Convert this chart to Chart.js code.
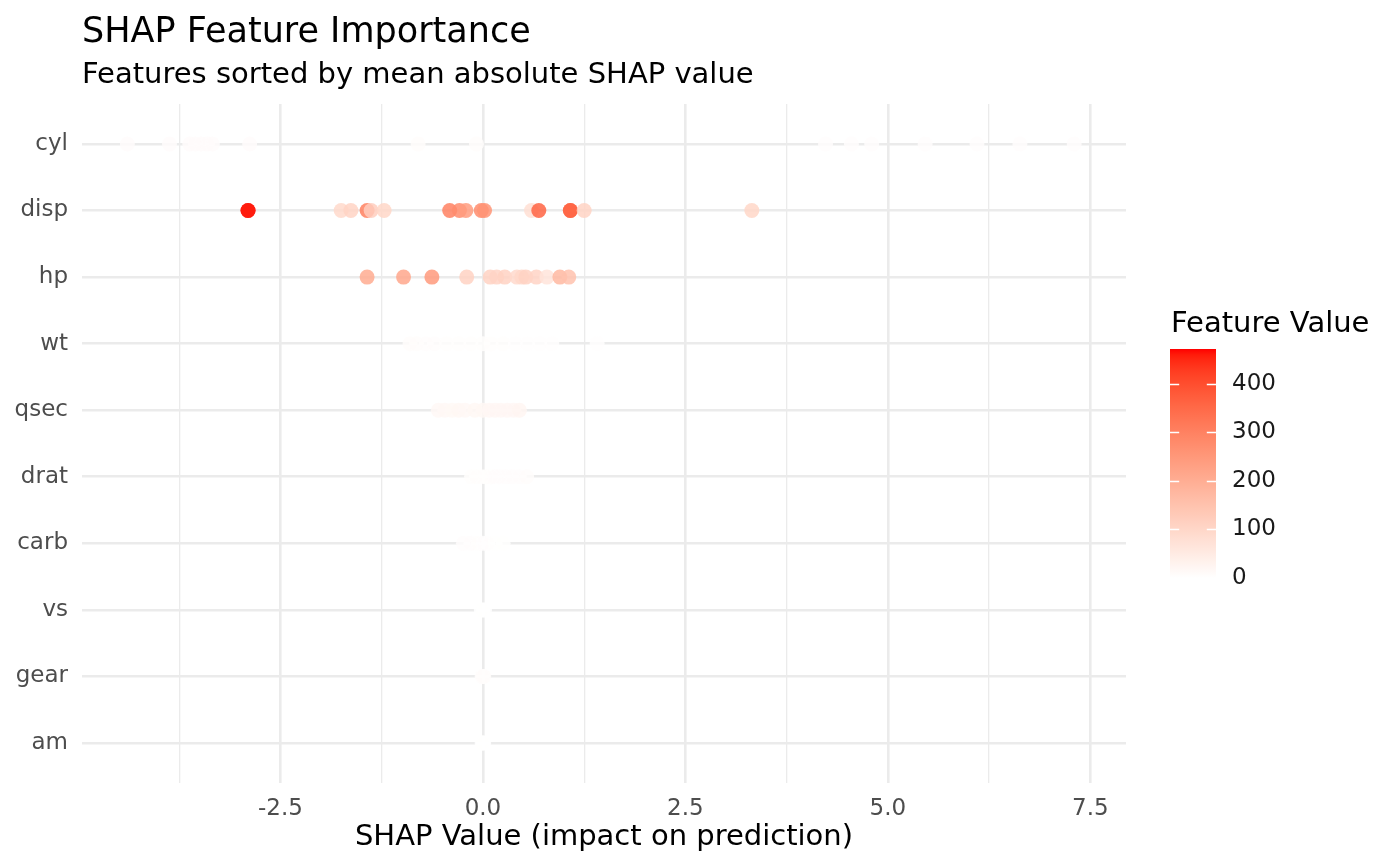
<!DOCTYPE html>
<html>
<head>
<meta charset="utf-8">
<script src="https://cdn.jsdelivr.net/npm/chart.js@4.4.1/dist/chart.umd.min.js"></script>
<style>
  html, body { margin: 0; padding: 0; background: #ffffff; }
  #wrap { width: 1400px; height: 866px; position: relative; }
</style>
</head>
<body>
<div id="wrap"><canvas id="c" width="1400" height="866"></canvas></div>
<script>
// ---------------- DATA ----------------
const features = ['cyl', 'disp', 'hp', 'wt', 'qsec', 'drat', 'carb', 'vs', 'gear', 'am'];

const cylShap = [-4.39, -3.87, -3.62, -3.55, -3.48, -3.40, -3.34, -2.88, -0.80, -0.08, 4.23, 4.55, 4.80, 5.46, 6.10, 6.63, 7.30];
const cylVal  = [8, 8, 8, 8, 8, 8, 8, 8, 6, 6, 4, 4, 4, 4, 4, 4, 4];

const dispShap = [-2.90, -2.90, -1.75, -1.63, -1.43, -1.38, -1.22, -0.41, -0.29, -0.21, -0.02, 0.02, 0.60, 0.69, 1.08, 1.08, 1.25, 3.32];
const dispVal  = [472, 460, 95, 108, 304, 120, 100, 301, 276, 240, 276, 258, 80, 360, 350, 360, 108, 100];

const hpShap = [-1.43, -0.98, -0.63, -0.20, 0.09, 0.17, 0.27, 0.42, 0.48, 0.53, 0.66, 0.79, 0.95, 1.06];
const hpVal  = [205, 215, 245, 110, 110, 105, 110, 93, 97, 110, 105, 66, 175, 150];

const wtShap = [-0.90, -0.82, -0.70, -0.60, -0.45, -0.30, -0.15, 0.00, 0.10, 0.25, 0.40, 0.55, 0.70, 0.85, 1.41];
const wtVal  = [5.4, 5.3, 4.1, 3.8, 3.6, 3.5, 3.4, 3.2, 3.2, 2.9, 2.6, 2.3, 2.2, 1.9, 1.6];

const qsecShap = [-0.55, -0.47, -0.38, -0.30, -0.22, -0.10, 0.00, 0.08, 0.15, 0.22, 0.30, 0.38, 0.45];
const qsecVal  = [16.5, 17.0, 15.8, 17.4, 17.0, 18.0, 18.3, 18.6, 19.4, 19.9, 20.0, 20.2, 22.9];

const dratShap = [-0.14, -0.08, -0.02, 0.04, 0.10, 0.15, 0.20, 0.28, 0.36, 0.45, 0.54];
const dratVal  = [3.1, 3.0, 3.1, 3.2, 3.7, 3.9, 3.9, 4.1, 4.2, 4.2, 4.9];

const carbShap = [-0.24, -0.15, -0.06, 0.00, 0.06, 0.15, 0.25];
const carbVal  = [4, 4, 3, 2, 2, 1, 1];

const vsShap = [-0.02, 0.00, 0.02];
const vsVal  = [0, 1, 0];

const gearShap = [-0.01, 0.00, 0.01];
const gearVal  = [3, 4, 5];

const amShap = [-0.01, 0.00, 0.01];
const amVal  = [0, 1, 0];

const xMajorTicks = [-2.5, 0, 2.5, 5, 7.5];
const xMinorTicks = [-3.75, -1.25, 1.25, 3.75, 6.25];
const legendTicks = [0, 100, 200, 300, 400];

const shapSeries = [cylShap, dispShap, hpShap, wtShap, qsecShap, dratShap, carbShap, vsShap, gearShap, amShap];
const valueSeries = [cylVal, dispVal, hpVal, wtVal, qsecVal, dratVal, carbVal, vsVal, gearVal, amVal];

// ---------------- COLOUR SCALE (Lab interpolation white -> red) ----------------
function toLin(c) { c /= 255; return c <= 0.04045 ? c / 12.92 : Math.pow((c + 0.055) / 1.055, 2.4); }
function fromLin(c) { const v = c <= 0.0031308 ? 12.92 * c : 1.055 * Math.pow(c, 1 / 2.4) - 0.055; return Math.max(0, Math.min(255, Math.round(v * 255))); }
const Xn = 0.95047, Yn = 1.0, Zn = 1.08883;
function fLab(t) { return t > 0.008856 ? Math.cbrt(t) : 7.787 * t + 16 / 116; }
function fInv(t) { const t3 = t * t * t; return t3 > 0.008856 ? t3 : (t - 16 / 116) / 7.787; }
function rgbToLab(r, g, b) {
  const R = toLin(r), G = toLin(g), B = toLin(b);
  const X = 0.4124564 * R + 0.3575761 * G + 0.1804375 * B;
  const Y = 0.2126729 * R + 0.7151522 * G + 0.0721750 * B;
  const Z = 0.0193339 * R + 0.1191920 * G + 0.9503041 * B;
  const fx = fLab(X / Xn), fy = fLab(Y / Yn), fz = fLab(Z / Zn);
  return [116 * fy - 16, 500 * (fx - fy), 200 * (fy - fz)];
}
function labToRgb(L, a, b) {
  const fy = (L + 16) / 116, fx = fy + a / 500, fz = fy - b / 200;
  const X = Xn * fInv(fx), Y = Yn * fInv(fy), Z = Zn * fInv(fz);
  const R = 3.2404542 * X - 1.5371385 * Y - 0.4985314 * Z;
  const G = -0.9692660 * X + 1.8760108 * Y + 0.0415560 * Z;
  const B = 0.0556434 * X - 0.2040259 * Y + 1.0572252 * Z;
  return [fromLin(R), fromLin(G), fromLin(B)];
}
const labLow = rgbToLab(255, 255, 255);
const labHigh = rgbToLab(255, 0, 0);
const allVals = valueSeries.flat();
const colorMin = Math.min(...allVals);
const colorMax = Math.max(...allVals);
function colorFor(v, alpha) {
  const t = Math.max(0, Math.min(1, (v - colorMin) / (colorMax - colorMin)));
  const L = labLow[0] + (labHigh[0] - labLow[0]) * t;
  const A = labLow[1] + (labHigh[1] - labLow[1]) * t;
  const B = labLow[2] + (labHigh[2] - labLow[2]) * t;
  const [r, g, b] = labToRgb(L, A, B);
  return alpha === undefined ? `rgb(${r},${g},${b})` : `rgba(${r},${g},${b},${alpha})`;
}

// ---------------- DATASETS ----------------
const POINT_ALPHA = 0.85;
const datasets = features.map((f, i) => ({
  label: f,
  data: shapSeries[i].map(s => ({ x: s, y: i })),
  backgroundColor: valueSeries[i].map(v => colorFor(v, POINT_ALPHA)),
  borderWidth: 0,
  pointRadius: 7.5,
  pointHoverRadius: 7.5
}));

const FONT = "'DejaVu Sans', 'Liberation Sans', sans-serif";
Chart.defaults.font.family = FONT;

// ---------------- PLUGINS: titles + colourbar legend ----------------
const decorPlugin = {
  id: 'decor',
  afterDraw(chart) {
    const ctx = chart.ctx;
    const ca = chart.chartArea;
    ctx.save();
    ctx.fillStyle = '#000000';
    ctx.textAlign = 'left';
    ctx.textBaseline = 'alphabetic';
    ctx.font = `35px ${FONT}`;
    ctx.fillText('SHAP Feature Importance', ca.left, 42);
    ctx.font = `29px ${FONT}`;
    ctx.fillText('Features sorted by mean absolute SHAP value', ca.left, 83);

    // colourbar
    const barX = 1170, barW = 46, barTop = 349, barBot = 578;
    const grad = ctx.createLinearGradient(0, barBot, 0, barTop);
    const N = 40;
    for (let k = 0; k <= N; k++) {
      const v = colorMin + (colorMax - colorMin) * k / N;
      grad.addColorStop(k / N, colorFor(v));
    }
    ctx.fillStyle = grad;
    ctx.fillRect(barX, barTop, barW, barBot - barTop);

    const yOf = v => barBot - (v - colorMin) / (colorMax - colorMin) * (barBot - barTop);
    ctx.strokeStyle = '#ffffff';
    ctx.lineWidth = 1.5;
    const tickLen = barW / 5;
    legendTicks.forEach(v => {
      if (v <= colorMin || v >= colorMax) return;
      const y = Math.round(yOf(v)) + 0.5;
      ctx.beginPath();
      ctx.moveTo(barX, y); ctx.lineTo(barX + tickLen, y);
      ctx.moveTo(barX + barW - tickLen, y); ctx.lineTo(barX + barW, y);
      ctx.stroke();
    });

    ctx.fillStyle = '#000000';
    ctx.font = `29px ${FONT}`;
    ctx.textBaseline = 'alphabetic';
    ctx.fillText('Feature Value', 1171, 332);

    ctx.font = `23px ${FONT}`;
    ctx.textBaseline = 'middle';
    ctx.fillStyle = '#1a1a1a';
    legendTicks.forEach(v => {
      ctx.fillText(String(v), 1232, yOf(v));
    });
    ctx.restore();
  }
};

// ---------------- CHART ----------------
const allXTicks = xMinorTicks.concat(xMajorTicks).sort((a, b) => a - b);

new Chart(document.getElementById('c'), {
  type: 'scatter',
  data: { datasets },
  plugins: [decorPlugin],
  options: {
    responsive: false,
    animation: false,
    events: [],
    layout: { padding: { top: 104, right: 274, bottom: 0, left: 0 } },
    plugins: {
      legend: { display: false },
      tooltip: { enabled: false },
      title: { display: false }
    },
    scales: {
      x: {
        type: 'linear',
        min: -4.95,
        max: 7.94,
        afterBuildTicks(scale) { scale.ticks = allXTicks.map(v => ({ value: v })); },
        afterFit(scale) { scale.height = 83; },
        border: { display: false },
        grid: {
          color: '#ebebeb',
          drawTicks: false,
          lineWidth: ctx => (ctx.tick && xMajorTicks.includes(ctx.tick.value)) ? 2.6 : 1.3
        },
        ticks: {
          autoSkip: false,
          maxRotation: 0,
          padding: 12,
          color: '#4d4d4d',
          font: { size: 23 },
          callback: v => xMajorTicks.includes(v) ? v.toFixed(1) : ''
        },
        title: {
          display: true,
          text: 'SHAP Value (impact on prediction)',
          color: '#000000',
          font: { size: 29 },
          padding: { top: 0, bottom: 11 }
        }
      },
      y: {
        type: 'linear',
        reverse: true,
        min: -0.6,
        max: features.length - 1 + 0.6,
        afterBuildTicks(scale) { scale.ticks = features.map((f, i) => ({ value: i })); },
        afterFit(scale) { scale.width = 82; },
        border: { display: false },
        grid: { color: '#ebebeb', drawTicks: false, lineWidth: 2.6 },
        ticks: {
          autoSkip: false,
          padding: 14,
          color: '#4d4d4d',
          font: { size: 23 },
          callback: v => features[v] !== undefined ? features[v] : ''
        }
      }
    }
  }
});
</script>
</body>
</html>
